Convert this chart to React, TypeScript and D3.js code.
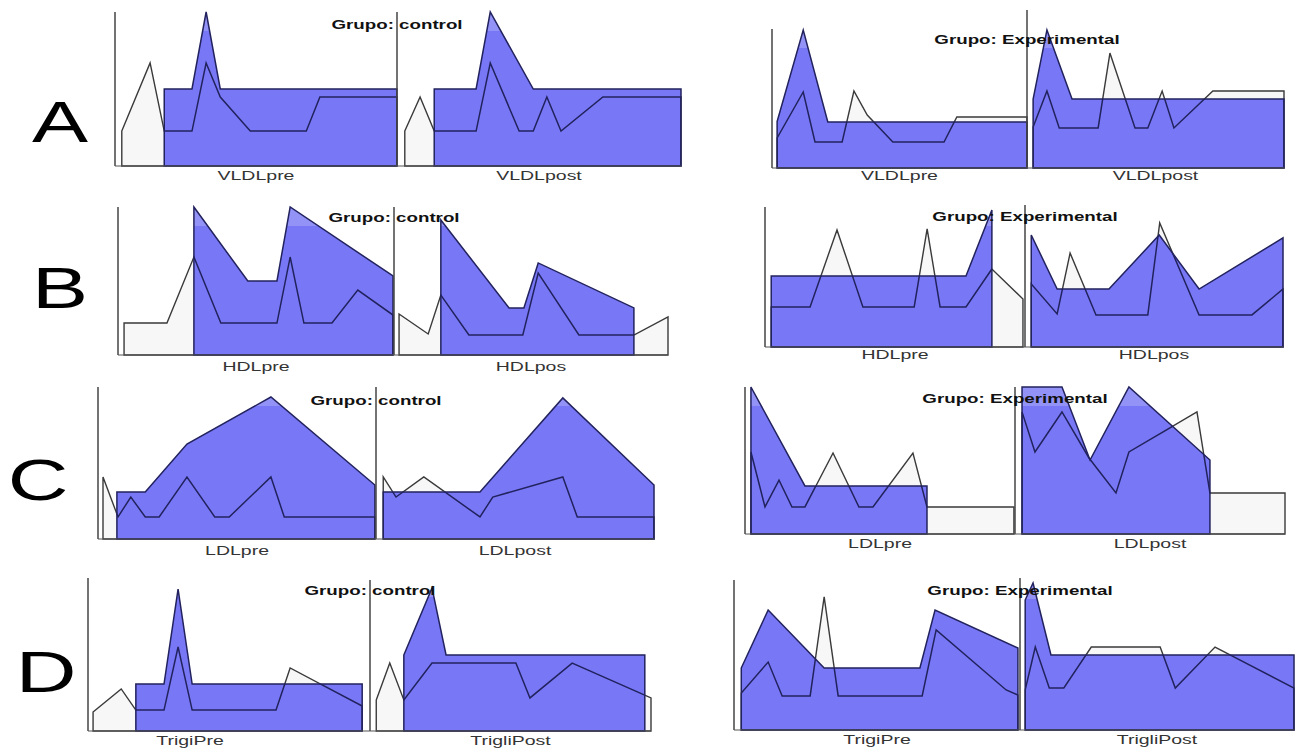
import * as d3 from "d3";

type Pt = [number, number];

// x: position along the panel (0-100), y: height relative to the axis (0-100)

// VLDL
const vldlCtrlPreWhite: Pt[] = [[1.2, 22.7], [6.2, 66.9], [8.7, 22.7], [13.6, 22.7], [16.1, 66.9], [18.6, 44.8], [23.9, 22.7], [33.8, 22.7], [36.2, 44.8], [49.8, 44.8]];
const vldlCtrlPreBlue: Pt[] = [[8.7, 50], [13.6, 50], [16.1, 100], [18.6, 50], [49.8, 50]];
const vldlCtrlPostWhite: Pt[] = [[51.2, 22.7], [53.9, 44.8], [56.4, 22.7], [63.8, 22.7], [66.3, 66.9], [71.4, 22.7], [73.9, 22.7], [76.3, 44.8], [78.8, 22.7], [86.2, 44.8], [100, 44.8]];
const vldlCtrlPostBlue: Pt[] = [[56.4, 50], [63.8, 50], [66.3, 100], [73.9, 50], [100, 50]];

const vldlExpPreWhite: Pt[] = [[1, 21.6], [6.1, 54.7], [8.4, 18.7], [13.7, 18.7], [16, 55.4], [18.6, 38.1], [23.6, 18.7], [33.6, 18.7], [36.1, 36.7], [49.8, 36.7]];
const vldlExpPreBlue: Pt[] = [[1, 33.5], [6.1, 99.3], [10.9, 33.1], [49.8, 33.1]];
const vldlExpPostWhite: Pt[] = [[51, 29.5], [53.7, 55.4], [56.1, 28.8], [63.7, 28.8], [66, 82.7], [70.9, 28.8], [73.4, 28.8], [76.2, 55.4], [78.5, 28.8], [86.1, 55.4], [100, 55.4]];
const vldlExpPostBlue: Pt[] = [[51, 49.6], [53.7, 99.3], [58.6, 49.6], [100, 49.6]];

// HDL
const hdlCtrlPreWhite: Pt[] = [[1.1, 21.6], [8.9, 21.6], [13.8, 66.2], [18.7, 21.6], [28.9, 21.6], [31.3, 66.2], [33.8, 21.6], [38.9, 21.6], [43.6, 43.9], [50, 27]];
const hdlCtrlPreBlue: Pt[] = [[13.8, 100], [23.6, 50], [28.9, 50], [31.3, 100], [50, 53.4]];
const hdlCtrlPostWhite: Pt[] = [[51.1, 27.7], [56.4, 14.2], [58.7, 40.5], [63.8, 13.5], [73.6, 13.5], [76.4, 55.4], [83.8, 13.5], [93.8, 13.5], [100, 25.7]];
const hdlCtrlPostBlue: Pt[] = [[58.7, 91.2], [71.1, 31.8], [73.8, 31.8], [76.4, 62.2], [93.8, 31.8]];

const hdlExpPreWhite: Pt[] = [[1.2, 28.6], [8.7, 28.6], [13.9, 83.6], [18.9, 28.6], [28.8, 28.6], [31.3, 84.3], [33.8, 28.6], [38.8, 28.6], [43.8, 55.7], [49.8, 34.3]];
const hdlExpPreBlue: Pt[] = [[1.2, 50.7], [38.8, 50.7], [43.8, 97.9]];
const hdlExpPostWhite: Pt[] = [[51.4, 45], [56.4, 23.6], [58.9, 67.1], [63.9, 22.9], [73.9, 22.9], [76.2, 88.6], [83.8, 22.9], [94, 22.9], [100, 41.4]];
const hdlExpPostBlue: Pt[] = [[51.4, 80], [56.4, 41.4], [66.4, 41.4], [76.1, 80], [83.8, 41.4], [100, 77.9]];

// LDL
const ldlCtrlPreWhite: Pt[] = [[0.9, 40.8], [3.6, 14.5], [5.9, 27.6], [8.5, 14.5], [11, 14.5], [16, 40.8], [21, 14.5], [23.6, 14.5], [31.1, 40.8], [33.5, 14.5], [49.8, 14.5]];
const ldlCtrlPreBlue: Pt[] = [[3.4, 30.9], [8.5, 30.9], [16, 62.5], [31.1, 93.4], [49.8, 35.5]];
const ldlCtrlPostWhite: Pt[] = [[51.3, 40.8], [53.6, 27.6], [58.6, 40.8], [68.7, 14.5], [71, 27.6], [83.6, 40.8], [86.2, 14.5], [100, 14.5]];
const ldlCtrlPostBlue: Pt[] = [[51.3, 30.9], [68.7, 30.9], [83.6, 92.8], [100, 35.5]];

const ldlExpPreWhite: Pt[] = [[1.1, 55.8], [3.7, 18.4], [6.3, 36.7], [8.7, 18.4], [11.1, 18.4], [16.3, 55.1], [21.1, 18.4], [23.7, 18.4], [31.1, 55.1], [33.7, 18.4], [49.8, 18.4]];
const ldlExpPreBlue: Pt[] = [[1.1, 100], [11.1, 32.7], [33.7, 32.7]];
const ldlExpPostWhite: Pt[] = [[51.3, 83], [53.7, 55.8], [58.7, 83], [63.7, 51.7], [68.7, 27.9], [71.1, 55.8], [83.7, 83], [86.1, 27.9], [100, 27.9]];
const ldlExpPostBlue: Pt[] = [[51.3, 100], [58.7, 100], [63.9, 50.3], [71.1, 100], [86.1, 50.3]];

// Triglicéridos
const trigCtrlPreWhite: Pt[] = [[0.9, 12.4], [5.9, 27.5], [8.5, 13.7], [13.5, 13.7], [16, 54.9], [18.5, 13.7], [33.4, 13.7], [35.9, 41.2], [48.7, 16.3]];
const trigCtrlPreBlue: Pt[] = [[8.5, 30.7], [13.5, 30.7], [16, 92.8], [18.5, 30.7], [48.7, 30.7]];
const trigCtrlPostWhite: Pt[] = [[51.2, 20.3], [53.6, 44.4], [56.1, 20.3], [61.1, 44.4], [76, 44.4], [78.5, 21.6], [86, 44.4], [100, 21.6]];
const trigCtrlPostBlue: Pt[] = [[56.1, 49.7], [61.1, 93.5], [63.6, 49.7], [98.9, 49.7]];

const trigExpPreWhite: Pt[] = [[1.3, 24.7], [6.1, 45.3], [8.6, 22.7], [13.6, 22.7], [16.1, 88.7], [18.6, 22.7], [33.6, 22.7], [36.1, 66.7], [48.6, 26.7], [50.7, 23.3]];
const trigExpPreBlue: Pt[] = [[1.3, 41.3], [6.1, 80], [16.1, 41.3], [33.2, 41.3], [35.9, 80], [50.7, 54.7]];
const trigExpPostWhite: Pt[] = [[52, 26.7], [53.8, 55.3], [56.3, 28], [58.9, 28], [63.8, 55.3], [76.1, 55.3], [78.8, 28], [85.9, 55.3], [100, 28]];
const trigExpPostBlue: Pt[] = [[52, 86.7], [53.4, 98], [56.6, 50], [100, 50]];

const rowLetters = ["A", "B", "C", "D"];

interface Panel {
  id: string;
  title: string;
  labels: [string, string];
  series: Pt[][]; // preWhite, preBlue, postWhite, postBlue
  left: number; divider: number; right: number;
  top: number; dividerTop: number; base: number;
  titleY: number; labelY: number;
  preLabelX?: number;
}

const panels: Panel[] = [
  { id: "a1", title: "Grupo: control", labels: ["VLDLpre", "VLDLpost"], series: [vldlCtrlPreWhite, vldlCtrlPreBlue, vldlCtrlPostWhite, vldlCtrlPostBlue], left: 115, divider: 397, right: 681, top: 12, dividerTop: 12, base: 166, titleY: 29, labelY: 180 },
  { id: "a2", title: "Grupo: Experimental", labels: ["VLDLpre", "VLDLpost"], series: [vldlExpPreWhite, vldlExpPreBlue, vldlExpPostWhite, vldlExpPostBlue], left: 772, divider: 1027, right: 1284, top: 29, dividerTop: 10, base: 168, titleY: 44, labelY: 180 },
  { id: "b1", title: "Grupo: control", labels: ["HDLpre", "HDLpos"], series: [hdlCtrlPreWhite, hdlCtrlPreBlue, hdlCtrlPostWhite, hdlCtrlPostBlue], left: 118, divider: 394, right: 668, top: 207, dividerTop: 207, base: 355, titleY: 222, labelY: 371 },
  { id: "b2", title: "Grupo: Experimental", labels: ["HDLpre", "HDLpos"], series: [hdlExpPreWhite, hdlExpPreBlue, hdlExpPostWhite, hdlExpPostBlue], left: 765, divider: 1025, right: 1283, top: 207, dividerTop: 205, base: 347, titleY: 221, labelY: 359 },
  { id: "c1", title: "Grupo: control", labels: ["LDLpre", "LDLpost"], series: [ldlCtrlPreWhite, ldlCtrlPreBlue, ldlCtrlPostWhite, ldlCtrlPostBlue], left: 98, divider: 376, right: 654, top: 387, dividerTop: 387, base: 539, titleY: 405, labelY: 555 },
  { id: "c2", title: "Grupo: Experimental", labels: ["LDLpre", "LDLpost"], series: [ldlExpPreWhite, ldlExpPreBlue, ldlExpPostWhite, ldlExpPostBlue], left: 745, divider: 1015, right: 1285, top: 387, dividerTop: 387, base: 534, titleY: 403, labelY: 548 },
  { id: "d1", title: "Grupo: control", labels: ["TrigiPre", "TrigliPost"], series: [trigCtrlPreWhite, trigCtrlPreBlue, trigCtrlPostWhite, trigCtrlPostBlue], left: 88, divider: 370, right: 651, top: 578, dividerTop: 580, base: 731, titleY: 595, labelY: 745, preLabelX: 190 },
  { id: "d2", title: "Grupo: Experimental", labels: ["TrigiPre", "TrigliPost"], series: [trigExpPreWhite, trigExpPreBlue, trigExpPostWhite, trigExpPostBlue], left: 734, divider: 1020, right: 1294, top: 580, dividerTop: 578, base: 730, titleY: 595, labelY: 744 },
];

const letterPos = [
  { x: 60, y: 142 },
  { x: 60, y: 308 },
  { x: 38, y: 500 },
  { x: 46, y: 692 },
];

const FONT = "'Liberation Sans', Arial, sans-serif";
const BLUE = "#7878f6";
const NAVY = "#22225e";
const WHITE_FILL = "#f7f7f7";
const GRAY = "#3a3a3a";

function PanelView({ p }: { p: Panel }) {
  const x = d3.scaleLinear().domain([0, 100]).range([p.left, p.right]);
  const y = d3.scaleLinear().domain([0, 100]).range([p.base, p.top]);
  const area = d3
    .area<Pt>()
    .x((d) => x(d[0]))
    .y0(y(0))
    .y1((d) => y(d[1]));
  const [preW, preB, postW, postB] = p.series;
  const pairs: [Pt[], Pt[], string][] = [
    [preW, preB, `${p.id}-pre`],
    [postW, postB, `${p.id}-post`],
  ];
  const preX = p.preLabelX ?? (p.left + p.divider) / 2;
  return (
    <g>
      <defs>
        {pairs.map(([, b, id]) => (
          <clipPath id={`clip-${id}`} key={id}>
            <path d={area(b) ?? ""} />
          </clipPath>
        ))}
      </defs>
      {pairs.map(([w, b, id]) => (
        <g key={id}>
          <path d={area(w) ?? ""} fill={WHITE_FILL} stroke={GRAY} strokeWidth={1.4} />
          <path d={area(b) ?? ""} fill={BLUE} />
          <rect
            x={p.left}
            y={p.top}
            width={p.right - p.left}
            height={19}
            fill="#fff"
            opacity={0.2}
            clipPath={`url(#clip-${id})`}
          />
          <path
            d={area(w) ?? ""}
            fill="none"
            stroke={NAVY}
            strokeWidth={1.5}
            clipPath={`url(#clip-${id})`}
          />
          <path d={area(b) ?? ""} fill="none" stroke={NAVY} strokeWidth={1.5} />
        </g>
      ))}
      <line x1={p.left} x2={p.left} y1={p.top} y2={p.base} stroke="#444" strokeWidth={1.5} />
      <line x1={p.divider} x2={p.divider} y1={p.dividerTop} y2={p.base} stroke="#444" strokeWidth={1.5} />
      <line x1={p.left} x2={p.right} y1={p.base} y2={p.base} stroke="#555" strokeWidth={1} />
      <text
        transform={`translate(${p.divider},${p.titleY}) scale(1.5,1)`}
        textAnchor="middle"
        fontFamily={FONT}
        fontWeight="bold"
        fontSize={12.5}
        fill="#111"
      >
        {p.title}
      </text>
      <text
        transform={`translate(${preX},${p.labelY}) scale(1.5,1)`}
        textAnchor="middle"
        fontFamily={FONT}
        fontSize={13}
        fill="#333"
      >
        {p.labels[0]}
      </text>
      <text
        transform={`translate(${(p.divider + p.right) / 2},${p.labelY}) scale(1.5,1)`}
        textAnchor="middle"
        fontFamily={FONT}
        fontSize={13}
        fill="#333"
      >
        {p.labels[1]}
      </text>
    </g>
  );
}

export default function App() {
  return (
    <svg
      width={1296}
      height={749}
      style={{ position: "absolute", left: 0, top: 0, background: "#fff" }}
    >
      <rect width={1296} height={749} fill="#fff" />
      {rowLetters.map((l, i) => (
        <text
          key={l}
          transform={`translate(${letterPos[i].x},${letterPos[i].y}) scale(1.45,1)`}
          textAnchor="middle"
          fontFamily={FONT}
          fontSize={58}
          fill="#000"
        >
          {l}
        </text>
      ))}
      {panels.map((p) => (
        <PanelView key={p.id} p={p} />
      ))}
    </svg>
  );
}
